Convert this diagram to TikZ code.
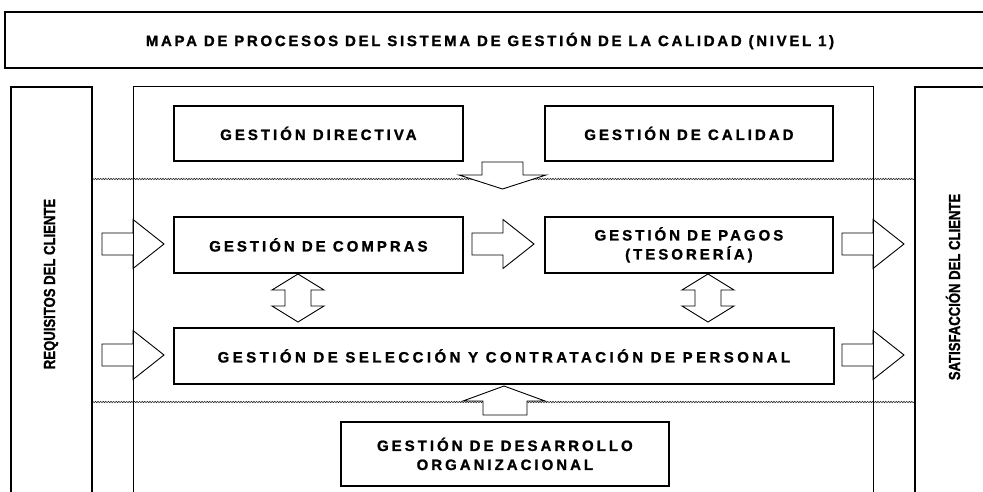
\documentclass[tikz,border=0pt]{standalone}
\usepackage{fontspec}
\setmainfont{Liberation Sans}
\newfontfamily\cajafont{Liberation Sans Bold}[LetterSpace=20, FakeBold=1.2]
\newfontfamily\anchafont{Liberation Sans Bold}[LetterSpace=23, FakeBold=1.2]
\newfontfamily\titulofont{Liberation Sans Bold}[LetterSpace=18, FakeBold=1.2]
\newfontfamily\lateralfont{Liberation Sans Bold}[FakeBold=1.2]
\usetikzlibrary{decorations.pathmorphing}

\tikzset{
  caja/.style={draw, line width=1.8pt, fill=white, anchor=north west, align=center, inner sep=0pt,
    font={\cajafont\fontsize{15}{19}\selectfont}},
  flecha/.style={draw, line width=0.9pt, fill=white, line join=miter},
  ondas/.style={draw=black!85, line width=0.6pt, decorate,
    decoration={snake, amplitude=0.7pt, segment length=2.6pt}},
  columna/.style={draw, line width=1.8pt},
  lateral/.style={rotate=90, inner sep=0pt, font={\lateralfont\fontsize{16}{18}\selectfont}}
}

\begin{document}
\begin{tikzpicture}[x=1pt, y=-1pt]
\useasboundingbox (0,0) rectangle (983,492);
\clip (0,0) rectangle (983,492);

% titulo
\draw[columna] (990,12) -- (5,12) -- (5,68) -- (990,68);
\node[font={\titulofont\fontsize{15}{17}\selectfont}] (titulo) at (490,41)
  {MAPA DE PROCESOS DEL SISTEMA DE GESTIÓN DE LA CALIDAD (NIVEL 1)};

% lineas onduladas
\draw[ondas] (92,179) -- (915,179);
\draw[ondas] (92,402) -- (915,402);

% flechas horizontales
\foreach \xx/\yy in {133/244, 133/355, 503/244, 873/244, 873/355}
  \draw[flecha, shift={(\xx,\yy)}] (-31,-11) -- (0,-11) -- (0,-24.5) -- (31,0)
    -- (0,24.5) -- (0,11) -- (-31,11) -- cycle;

% flechas dobles
\foreach \xx in {298, 708}
  \draw[flecha, shift={(\xx,298)}] (0,-24) -- (26,-8) -- (13,-8) -- (13,8) -- (26,8)
    -- (0,24) -- (-26,8) -- (-13,8) -- (-13,-8) -- (-26,-8) -- cycle;

% flecha hacia abajo y hacia arriba
\draw[flecha] (482,162) -- (523,162) -- (523,175) -- (546,175) -- (502.5,189)
  -- (459,175) -- (482,175) -- cycle;
\draw[flecha] (483,415) -- (527,415) -- (527,401) -- (545,401) -- (504,386)
  -- (463,401) -- (483,401) -- cycle;

% columnas
\draw[columna] (11,500) -- (11,87) -- (92,87) -- (92,500);
\draw[columna] (915,500) -- (915,87) -- (990,87);
\draw[line width=1pt] (133,500) -- (133,87) -- (873,87) -- (873,500);
\node[lateral] (requisitos) at (51,284) {\scalebox{0.82}[1]{REQUISITOS DEL CLIENTE}};
\node[lateral] (satisfaccion) at (953,287) {\scalebox{0.82}[1]{SATISFACCIÓN DEL CLIENTE}};

% procesos
\node[caja, minimum width=289pt, minimum height=55pt] (directiva) at (173,105) {GESTIÓN DIRECTIVA};
\node[caja, minimum width=288pt, minimum height=55pt] (calidad) at (544,105) {GESTIÓN DE CALIDAD};
\node[caja, minimum width=289pt, minimum height=56pt] (compras) at (173,216) {GESTIÓN DE COMPRAS};
\node[caja, minimum width=288pt, minimum height=56pt] (pagos) at (544,216) {GESTIÓN DE PAGOS\\(TESORERÍA)};
\node[caja, minimum width=660pt, minimum height=56pt, font={\anchafont\fontsize{15}{19}\selectfont}]
  (seleccion) at (173,327) {GESTIÓN DE SELECCIÓN Y CONTRATACIÓN DE PERSONAL};
\node[caja, minimum width=328pt, minimum height=64pt] (desarrollo) at (340,421)
  {GESTIÓN DE DESARROLLO\\ORGANIZACIONAL};
\end{tikzpicture}
\end{document}
